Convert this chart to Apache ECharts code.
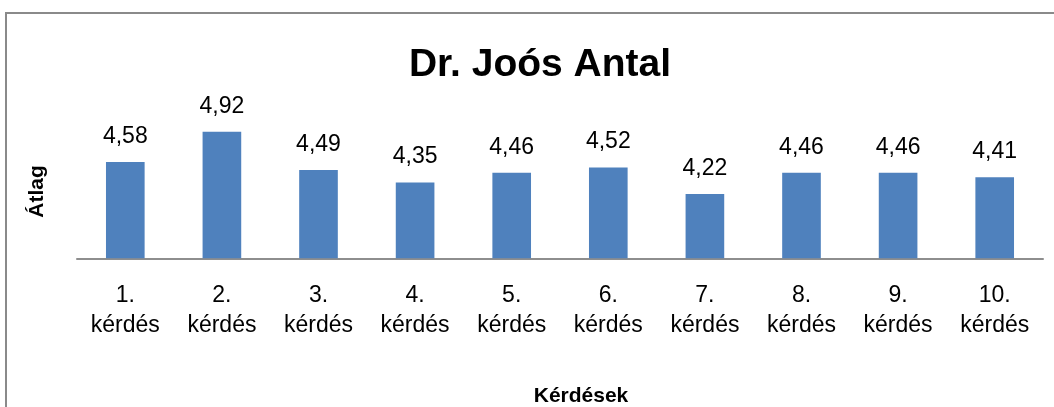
<!DOCTYPE html>
<html>
<head>
<meta charset="utf-8">
<script src="https://cdn.jsdelivr.net/npm/echarts@6/dist/echarts.min.js"></script>
<style>
  html, body { margin: 0; padding: 0; background: #ffffff; }
  #chart { width: 1054px; height: 407px; }
</style>
</head>
<body>
<div id="chart"></div>
<script>
// Question labels and the average score for each question
const categories = ['1. kérdés', '2. kérdés', '3. kérdés', '4. kérdés', '5. kérdés',
                    '6. kérdés', '7. kérdés', '8. kérdés', '9. kérdés', '10. kérdés'];
const averages = [4.58, 4.92, 4.49, 4.35, 4.46, 4.52, 4.22, 4.46, 4.46, 4.41];

const chartTitle = 'Dr. Joós Antal';
const xTitle = 'Kérdések';
const yTitle = 'Átlag';

const FONT = '"Liberation Sans", Arial, sans-serif';

const chart = echarts.init(document.getElementById('chart'), null, { renderer: 'canvas' });

chart.setOption({
  backgroundColor: '#ffffff',
  animation: false,
  grid: { left: 77, right: 11, top: 124.6, bottom: 148.7, containLabel: false },
  xAxis: {
    type: 'category',
    data: categories,
    axisLine: { show: true, lineStyle: { color: '#8e8e8e', width: 2 } },
    axisTick: { show: false },
    axisLabel: {
      interval: 0,
      margin: 22,
      color: '#000000',
      fontFamily: FONT,
      fontSize: 23,
      lineHeight: 30,
      formatter: v => v.replace(' ', '\n')
    }
  },
  yAxis: {
    type: 'value',
    min: 3.5,
    max: 5,
    interval: 0.5,
    axisLine: { show: false },
    axisTick: { show: false },
    axisLabel: { show: false },
    splitLine: { show: false },
    name: yTitle,
    nameLocation: 'middle',
    nameRotate: 90,
    nameGap: 29,
    nameTextStyle: { color: '#000000', fontFamily: FONT, fontWeight: 'bold', fontSize: 21 }
  },
  series: [{
    type: 'bar',
    data: averages,
    barCategoryGap: '60%',
    itemStyle: { color: '#4f81bd' },
    label: {
      show: true,
      position: 'top',
      distance: 14,
      color: '#000000',
      fontFamily: FONT,
      fontSize: 23,
      formatter: p => p.value.toFixed(2).replace('.', ',')
    }
  }],
  graphic: [
    {
      type: 'rect',
      shape: { x: 6, y: 13, width: 1100, height: 450 },
      style: { fill: 'none', stroke: '#8a8a8a', lineWidth: 2 },
      silent: true
    },
    {
      type: 'text',
      x: 540, y: 65,
      style: {
        text: chartTitle,
        fill: '#000000',
        font: 'bold 39px ' + FONT,
        textAlign: 'center',
        textVerticalAlign: 'middle'
      }
    },
    {
      type: 'text',
      x: 581, y: 396,
      style: {
        text: xTitle,
        fill: '#000000',
        font: 'bold 21px ' + FONT,
        textAlign: 'center',
        textVerticalAlign: 'middle'
      }
    }
  ]
});
</script>
</body>
</html>
